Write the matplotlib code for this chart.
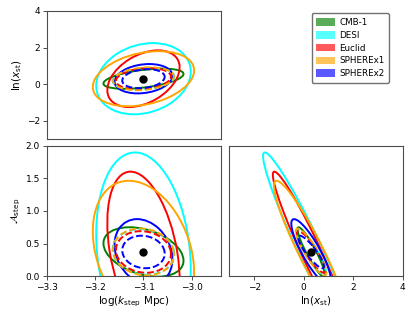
import numpy as np
import matplotlib
matplotlib.use('Agg')
import matplotlib.pyplot as plt
from matplotlib.patches import Ellipse, Patch

# experiments and colours
names = ['CMB-1', 'DESI', 'Euclid', 'SPHEREx1', 'SPHEREx2']
colors = ['green', 'cyan', 'red', 'orange', 'blue']

# fiducial (log k_step, ln x_st, A_step)
fid = [-3.1, 0.3, 0.37]

# contour half-widths and correlations, single experiments
sig_logk = [0.083, 0.098, 0.075, 0.105, 0.060]
sig_lnx = [0.55, 1.94, 1.545, 1.50, 0.80]
sig_A = [0.38, 1.53, 1.235, 1.095, 0.505]
r_kx = [0.47, 0.20, 0.40, 0.30, 0.20]
r_kA = [-0.35, -0.18, -0.36, -0.29, -0.22]
r_xA = [-0.92, -0.962, -0.96, -0.93, -0.86]

# survey + CMB-1 (dashed)
comb_names = ['DESI', 'Euclid', 'SPHEREx1', 'SPHEREx2']
comb_colors = ['cyan', 'red', 'orange', 'blue']
comb_logk = [0.064, 0.057, 0.063, 0.044]
comb_lnx = [0.60, 0.58, 0.62, 0.52]
comb_A = [0.35, 0.32, 0.36, 0.25]
comb_r_kx = [0.2, 0.2, 0.2, 0.2]
comb_r_kA = [-0.1, -0.1, -0.1, -0.1]
comb_r_xA = [-0.88, -0.88, -0.88, -0.88]


def cov3(s1, s2, s3, a, b, c):
    s = np.array([s1, s2, s3])
    R = np.array([[1, a, b], [a, 1, c], [b, c, 1]])
    return R * np.outer(s, s)


def draw(ax, C, i, j, color, ls):
    sub = C[np.ix_([i, j], [i, j])]
    vals, vecs = np.linalg.eigh(sub)
    ang = np.degrees(np.arctan2(vecs[1, 1], vecs[0, 1]))
    e = Ellipse((fid[i], fid[j]), 2*np.sqrt(vals[1]), 2*np.sqrt(vals[0]),
                angle=ang, fill=False, ec=color, lw=1.4, ls=ls)
    ax.add_patch(e)


fig = plt.figure(figsize=(4.14, 3.18), dpi=100)
ax1 = fig.add_axes([0.1135, 0.562, 0.4195, 0.404])
ax2 = fig.add_axes([0.1135, 0.132, 0.4195, 0.409])
ax3 = fig.add_axes([0.554, 0.132, 0.419, 0.409])

panels = [(ax1, 0, 1), (ax2, 0, 2), (ax3, 1, 2)]

covs = [cov3(sig_logk[n], sig_lnx[n], sig_A[n], r_kx[n], r_kA[n], r_xA[n])
        for n in range(len(names))]
comb_covs = [cov3(comb_logk[n], comb_lnx[n], comb_A[n], comb_r_kx[n],
                  comb_r_kA[n], comb_r_xA[n]) for n in range(len(comb_names))]

for ax, i, j in panels:
    for C, c in zip(covs, colors):
        draw(ax, C, i, j, c, '-')
    for C, c in zip(comb_covs, comb_colors):
        draw(ax, C, i, j, c, (0, (3.5, 1.5)))
    ax.plot(fid[i], fid[j], 'o', color='black', ms=5, zorder=5)
    for sp in ax.spines.values():
        sp.set_edgecolor('0.3')
    ax.tick_params(labelsize=6.5, length=3, width=0.7, pad=2, color='0.3')

ax1.set_xlim(-3.3, -2.94)
ax1.set_ylim(-3, 4)
ax1.set_yticks([-2, 0, 2, 4])
ax1.set_xticks([])
ax1.set_ylabel(r'$\ln(x_{\rm st})$', fontsize=7.5, labelpad=2)

ax2.set_xlim(-3.3, -2.94)
ax2.set_ylim(0, 2)
ax2.set_xticks([-3.3, -3.2, -3.1, -3.0])
ax2.set_yticks([0, 0.5, 1.0, 1.5, 2.0])
ax2.set_xlabel(r'$\log(k_{\rm step}\ {\rm Mpc})$', fontsize=7.5, labelpad=2)
ax2.set_ylabel(r'$\mathcal{A}_{\rm step}$', fontsize=7.5, labelpad=2)

ax3.set_xlim(-3, 4)
ax3.set_ylim(0, 2)
ax3.set_xticks([-2, 0, 2, 4])
ax3.set_yticks([])
ax3.set_xlabel(r'$\ln(x_{\rm st})$', fontsize=7.5, labelpad=2)

handles = [Patch(facecolor=c, alpha=0.65, edgecolor='none', label=n)
           for n, c in zip(names, colors)]
fig.legend(handles=handles, loc='upper left', bbox_to_anchor=(0.742, 0.972),
           fontsize=6.3, frameon=True, edgecolor='0.3', fancybox=True,
           handlelength=2.2, handleheight=1.0, labelspacing=0.45,
           borderpad=0.5, handletextpad=0.5)

fig.savefig('out.png', dpi=100)
